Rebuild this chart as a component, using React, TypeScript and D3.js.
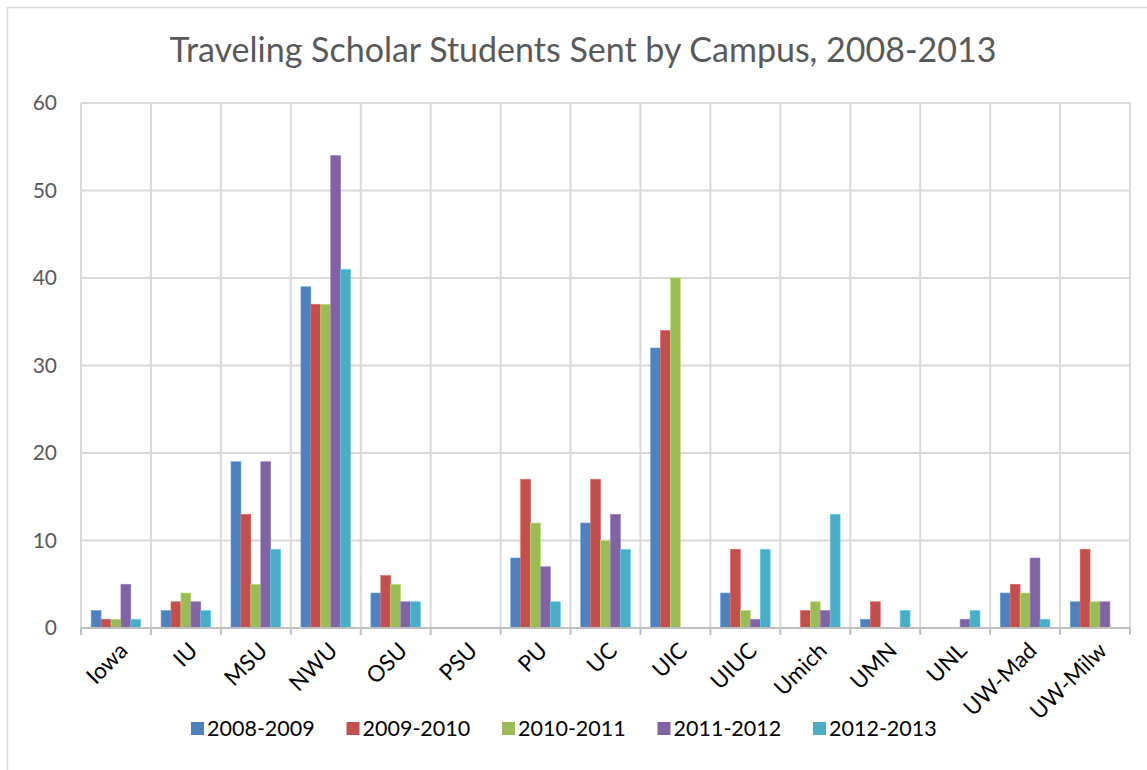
import React, { useEffect, useRef } from "react";
import * as d3 from "d3";

// campuses on the x axis
const campuses = [
  "Iowa", "IU", "MSU", "NWU", "OSU", "PSU", "PU", "UC",
  "UIC", "UIUC", "Umich", "UMN", "UNL", "UW-Mad", "UW-Milw",
];

const years = ["2008-2009", "2009-2010", "2010-2011", "2011-2012", "2012-2013"];

// students sent per campus, one array per year
const y0809 = [2, 2, 19, 39, 4, 0, 8, 12, 32, 4, 0, 1, 0, 4, 3];
const y0910 = [1, 3, 13, 37, 6, 0, 17, 17, 34, 9, 2, 3, 0, 5, 9];
const y1011 = [1, 4, 5, 37, 5, 0, 12, 10, 40, 2, 3, 0, 0, 4, 3];
const y1112 = [5, 3, 19, 54, 3, 0, 7, 13, 0, 1, 2, 0, 1, 8, 3];
const y1213 = [1, 2, 9, 41, 3, 0, 3, 9, 0, 9, 13, 2, 2, 1, 0];

const yTicks = [0, 10, 20, 30, 40, 50, 60];

const colors = ["#4F81BD", "#C0504D", "#9BBB59", "#8064A2", "#4BACC6"];

const App = () => {
  const svgRef = useRef<SVGSVGElement>(null);

  useEffect(() => {
    const svg = d3.select(svgRef.current);
    svg.selectAll("*").remove();

    const W = 1147;
    const H = 770;
    const margin = { top: 103, right: 17, bottom: 142, left: 81 };
    const width = W - margin.left - margin.right;
    const height = H - margin.top - margin.bottom;
    const font = "Lato, 'Open Sans', sans-serif";
    const series = [y0809, y0910, y1011, y1112, y1213];

    // marco exterior
    svg.append("rect")
      .attr("x", 7.5).attr("y", 7.5)
      .attr("width", W + 20).attr("height", H + 20)
      .attr("fill", "#fff").attr("stroke", "#D9D9D9").attr("stroke-width", 1.5);

    // titulo
    svg.append("text")
      .attr("x", 583).attr("y", 62)
      .attr("text-anchor", "middle")
      .attr("fill", "#595959")
      .style("font-family", font)
      .style("font-size", "34px")
      .text("Traveling Scholar Students Sent by Campus, 2008-2013");

    const x0 = d3.scaleBand().domain(campuses).range([0, width]).paddingInner(0).paddingOuter(0);
    const x1 = d3.scaleBand().domain(years)
      .range([x0.bandwidth() * 0.145, x0.bandwidth() * 0.855]).padding(0);
    const y = d3.scaleLinear().domain([0, 60]).range([height, 0]);

    const g = svg.append("g").attr("transform", `translate(${margin.left},${margin.top})`);

    // lineas horizontales
    g.append("g").selectAll("line").data(yTicks).enter().append("line")
      .attr("x1", 0).attr("x2", width)
      .attr("y1", (d) => y(d)).attr("y2", (d) => y(d))
      .attr("stroke", "#D9D9D9").attr("stroke-width", 2);

    // lineas verticales en los bordes de cada categoria
    const edges = campuses.map((c) => x0(c) as number).concat([width]);
    g.append("g").selectAll("line").data(edges).enter().append("line")
      .attr("x1", (d) => d).attr("x2", (d) => d)
      .attr("y1", 0).attr("y2", height)
      .attr("stroke", "#D9D9D9").attr("stroke-width", 2);

    // barras
    series.forEach((vals, si) => {
      g.append("g").selectAll("rect").data(vals).enter().append("rect")
        .attr("x", (d, i) => (x0(campuses[i]) as number) + (x1(years[si]) as number))
        .attr("y", (d) => y(d))
        .attr("width", x1.bandwidth())
        .attr("height", (d) => height - y(d))
        .attr("fill", colors[si])
        .attr("stroke", d3.color(colors[si])!.brighter(0.6).toString())
        .attr("stroke-width", 0.6);
    });

    // eje x
    g.append("line")
      .attr("x1", 0).attr("x2", width)
      .attr("y1", height).attr("y2", height)
      .attr("stroke", "#BFBFBF").attr("stroke-width", 2);
    g.append("g").selectAll("line").data(edges).enter().append("line")
      .attr("x1", (d) => d).attr("x2", (d) => d)
      .attr("y1", height).attr("y2", height + 7)
      .attr("stroke", "#BFBFBF").attr("stroke-width", 2);

    g.append("g").selectAll("text").data(campuses).enter().append("text")
      .attr("transform", (d) =>
        `translate(${(x0(d) as number) + x0.bandwidth() / 2 + 2},${height + 13}) rotate(-45)`)
      .attr("text-anchor", "end")
      .attr("dy", "0.7em")
      .attr("fill", "#000")
      .style("font-family", font)
      .style("font-size", "22.5px")
      .text((d) => d);

    // eje y
    g.append("g").selectAll("text").data(yTicks).enter().append("text")
      .attr("x", -24).attr("y", (d) => y(d))
      .attr("dy", "0.35em")
      .attr("text-anchor", "end")
      .attr("fill", "#595959")
      .style("font-family", font)
      .style("font-size", "21px")
      .text((d) => d);

    // leyenda
    const legend = svg.append("g").attr("transform", "translate(191,722)");
    years.forEach((yr, i) => {
      const item = legend.append("g").attr("transform", `translate(${i * 155.5},0)`);
      item.append("rect").attr("width", 13).attr("height", 13).attr("fill", colors[i]);
      item.append("text")
        .attr("x", 16).attr("y", 6.5).attr("dy", "0.36em")
        .attr("fill", "#000")
        .style("font-family", font)
        .style("font-size", "21.5px")
        .text(yr);
    });
  }, []);

  return (
    <div style={{ position: "absolute", left: 0, top: 0 }}>
      <svg ref={svgRef} width={1147} height={770} style={{ display: "block" }}></svg>
    </div>
  );
};

export default App;
